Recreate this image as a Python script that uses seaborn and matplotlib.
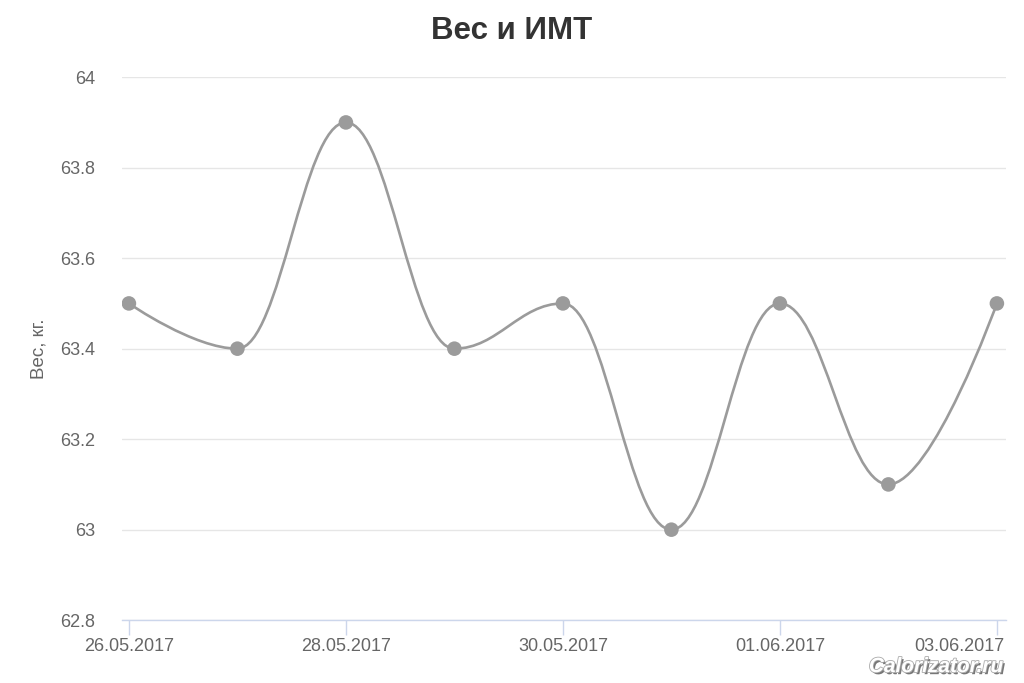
import matplotlib
matplotlib.use("Agg")
import matplotlib.pyplot as plt
import matplotlib.patheffects as pe
import matplotlib.transforms as mtrans
from matplotlib.path import Path
from matplotlib.patches import PathPatch
import numpy as np
import pandas as pd
import seaborn as sns

# data
dates = ["26.05.2017", "27.05.2017", "28.05.2017", "29.05.2017", "30.05.2017",
         "31.05.2017", "01.06.2017", "02.06.2017", "03.06.2017"]
weight = [63.5, 63.4, 63.9, 63.4, 63.5, 63.0, 63.5, 63.1, 63.5]
y_ticks = [62.8, 63, 63.2, 63.4, 63.6, 63.8, 64]
y_tick_labels = ["62.8", "63", "63.2", "63.4", "63.6", "63.8", "64"]

LINE = "#9b9b9b"
GRID = "#e6e6e6"
AXIS = "#ccd6eb"
TEXT = "#666666"


def spline_path(xs, ys, smoothing=1.5):
    # highcharts-like spline: bezier control points between neighbours
    n = len(xs)
    verts = [(xs[0], ys[0])]
    codes = [Path.MOVETO]
    conts = []
    for i in range(n):
        px, py = xs[i], ys[i]
        if i == 0 or i == n - 1:
            conts.append(((px, py), (px, py)))
            continue
        lx, ly = xs[i - 1], ys[i - 1]
        nx, ny = xs[i + 1], ys[i + 1]
        d = smoothing + 1
        lcx = (smoothing * px + lx) / d
        lcy = (smoothing * py + ly) / d
        rcx = (smoothing * px + nx) / d
        rcy = (smoothing * py + ny) / d
        if rcx != lcx:
            corr = (rcy - lcy) * (rcx - px) / (rcx - lcx) + py - rcy
            lcy += corr
            rcy += corr
        if lcy > ly and lcy > py:
            lcy = max(ly, py)
            rcy = 2 * py - lcy
        elif lcy < ly and lcy < py:
            lcy = min(ly, py)
            rcy = 2 * py - lcy
        if rcy > ny and rcy > py:
            rcy = max(ny, py)
            lcy = 2 * py - rcy
        elif rcy < ny and rcy < py:
            rcy = min(ny, py)
            lcy = 2 * py - rcy
        conts.append(((lcx, lcy), (rcx, rcy)))
    for i in range(1, n):
        verts += [conts[i - 1][1], conts[i][0], (xs[i], ys[i])]
        codes += [Path.CURVE4] * 3
    return Path(verts, codes)


df = pd.DataFrame({"day": np.arange(len(dates)), "date": dates, "weight": weight})

sns.set_theme(style="white")
plt.rcParams["font.family"] = ["Liberation Sans", "DejaVu Sans"]

fig, ax = plt.subplots(figsize=(10.24, 6.83), dpi=100)
fig.subplots_adjust(left=0.119, right=0.982, top=0.887, bottom=0.092)

ax.add_patch(PathPatch(spline_path(df["day"].tolist(), df["weight"].tolist()),
                       facecolor="none", edgecolor=LINE, lw=1.9, zorder=3))
sns.scatterplot(data=df, x="day", y="weight", ax=ax, color=LINE, s=110,
                edgecolor="none", zorder=4, legend=False)

ax.set_xlim(-0.065, 8.08)
ax.set_ylim(62.8, 64)
ax.set_yticks(y_ticks)
ax.set_yticklabels(y_tick_labels)
ax.set_xticks(df["day"][::2])
ax.set_xticklabels(df["date"][::2])

ax.grid(axis="y", color=GRID, lw=1)
ax.set_axisbelow(True)
for s in ["top", "right", "left"]:
    ax.spines[s].set_visible(False)
ax.spines["bottom"].set_color(AXIS)
ax.spines["bottom"].set_linewidth(1)

ax.tick_params(axis="y", length=0, pad=19, labelsize=13, labelcolor=TEXT)
ax.tick_params(axis="x", length=11, width=1, color=AXIS, pad=2,
               labelsize=13, labelcolor=TEXT, bottom=True)

# last date label kept inside the figure, like the original
last = ax.get_xticklabels()[-1]
last.set_horizontalalignment("right")
last.set_transform(last.get_transform() + mtrans.ScaledTranslation(7 / 100, 0, fig.dpi_scale_trans))

ax.set_xlabel("")
ax.set_ylabel("Вес, кг.", fontsize=13.5, color=TEXT, labelpad=9)
fig.text(0.5, 0.955, "Вес и ИМТ", ha="center", va="center", fontsize=22.5,
         fontweight="bold", color="#333333")

fig.text(0.98, 0.024, "Calorizator.ru", ha="right", va="center", fontsize=15,
         fontweight="bold", style="italic", color="white",
         path_effects=[pe.withSimplePatchShadow(offset=(1.5, -1.5), shadow_rgbFace="#555555", alpha=0.8),
                       pe.Stroke(linewidth=1.2, foreground="#aaaaaa"), pe.Normal()])

fig.savefig("out.png", dpi=100, facecolor="white")
